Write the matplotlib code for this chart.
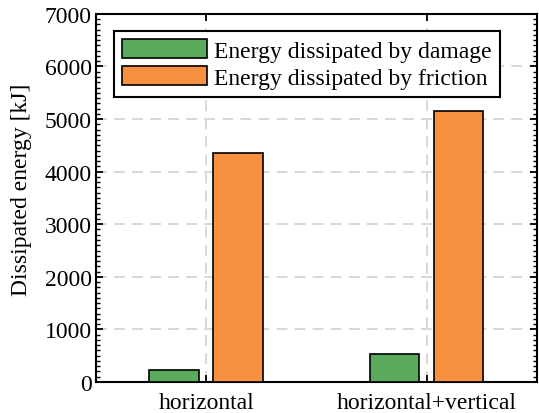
import numpy as np
import matplotlib.pyplot as plt
from matplotlib.ticker import MultipleLocator

plt.rcParams['font.family'] = ['Liberation Serif', 'DejaVu Serif']
plt.rcParams['font.size'] = 17

# Data
categories = ["horizontal", "horizontal+vertical"]
damage = [235, 540]
friction = [4360, 5160]
labels = ["Energy dissipated by damage", "Energy dissipated by friction"]

green = "#5aac5c"
orange = "#f7913f"

fig = plt.figure(figsize=(5.39, 4.14), dpi=100)
ax = fig.add_axes([0.178, 0.075, 0.818, 0.889])

x = np.arange(len(categories))
w = 0.225
off = 0.145
ax.bar(x - off, damage, w, color=green, edgecolor="black", linewidth=1.2, label=labels[0], zorder=3)
ax.bar(x + off, friction, w, color=orange, edgecolor="black", linewidth=1.2, label=labels[1], zorder=3)

ax.set_xlim(-0.5, 1.5)
ax.set_ylim(0, 7000)
ax.set_xticks(x)
ax.set_xticklabels(categories)
ax.yaxis.set_major_locator(MultipleLocator(1000))
ax.yaxis.set_minor_locator(MultipleLocator(100))
ax.tick_params(direction="in", top=True, right=True, width=1.3, length=5, pad=3)
ax.tick_params(which="minor", direction="in", right=True, width=1.0, length=3)
ax.tick_params(axis="x", pad=7)

ax.grid(True, color="#d4d4d4", linestyle=(0, (6, 4)), linewidth=1.3, zorder=0)
for s in ax.spines.values():
    s.set_linewidth(1.5)

ax.set_ylabel("Dissipated energy [kJ]")
ax.yaxis.set_label_coords(-0.145, 0.525)

leg = ax.legend(loc="upper left", bbox_to_anchor=(0.041, 0.954), borderaxespad=0,
                fancybox=False, framealpha=1, edgecolor="black",
                handlelength=3.6, handleheight=0.85, handletextpad=0.3,
                labelspacing=0.2, borderpad=0.35)
leg.get_frame().set_linewidth(1.5)

fig.savefig("out.png", dpi=100)
